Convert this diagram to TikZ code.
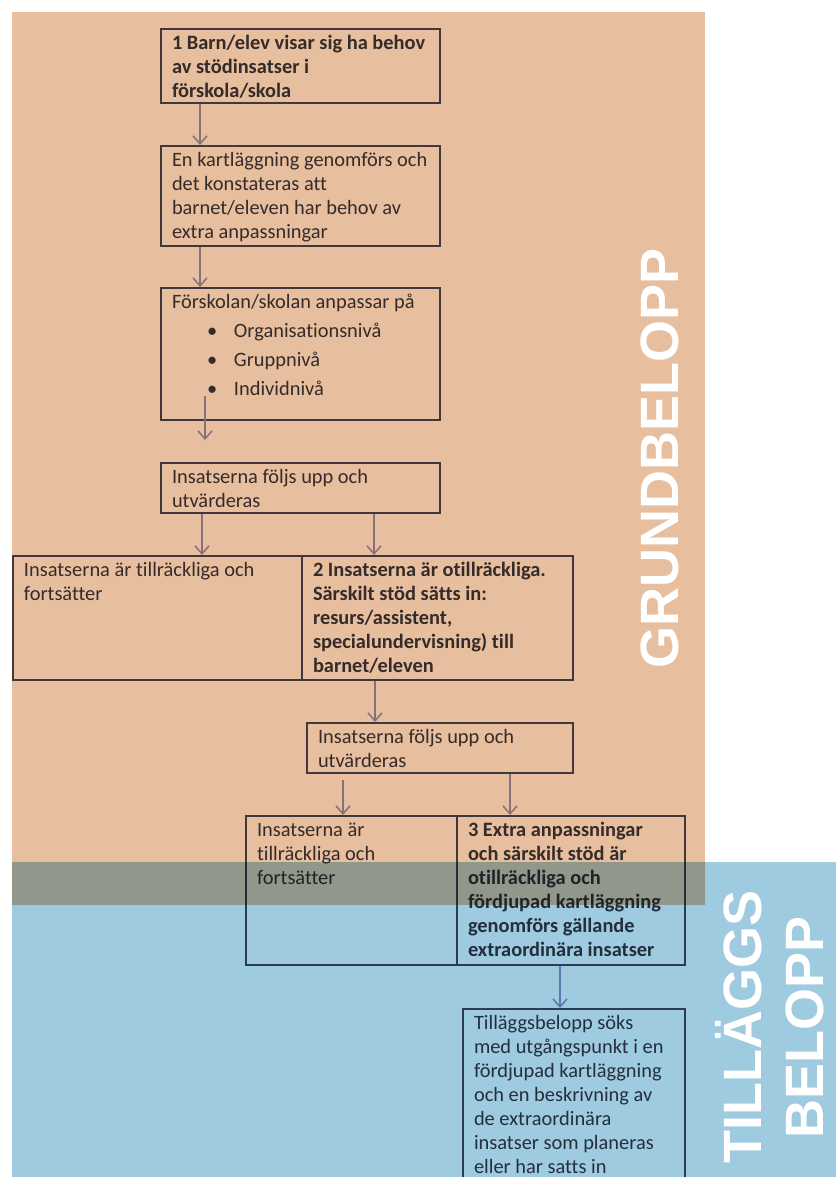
\documentclass[tikz,border=0pt]{standalone}
\usepackage{fontspec}
\setmainfont{Carlito}[Ligatures=NoCommon]
\newfontfamily\headfont{Liberation Sans}
\usetikzlibrary{arrows.meta}

\definecolor{orangebg}{RGB}{231,190,158}
\definecolor{bluebg}{RGB}{159,203,225}
\definecolor{ink}{RGB}{58,58,68}
\definecolor{boxline}{RGB}{72,76,96}
\definecolor{flowc}{RGB}{150,150,200}

\newlength\px
\setlength\px{0.5pt}
% box text: width, height (in px), content
\newcommand{\stagetext}[3]{\parbox[c][\dimexpr#2\px-4pt\relax][t]{\dimexpr#1\px-11pt\relax}{\raggedright\strut#3}}
\newcommand{\bul}{\hspace*{17.5pt}\makebox[13.5pt][l]{\textbullet}}

\begin{document}
\begin{tikzpicture}[x=1\px, y=-1\px,
        stage/.style={draw=boxline, line width=1pt, anchor=north west, inner xsep=5.5pt, inner ysep=2pt, text=ink, font=\fontsize{10.2}{12}\selectfont},
        keystage/.style={stage, font=\fontsize{10.2}{12}\selectfont\bfseries},
        flow/.style={draw=flowc, line width=0.75pt, -{Straight Barb[length=4pt, width=7pt]}},
        zone/.style={text=white, font=\headfont\bfseries\fontsize{27}{31}\selectfont, rotate=90, align=center}]

    \useasboundingbox (0,0) rectangle (836,1177);
    \clip (0,0) rectangle (836,1177);
    \fill[white] (0,0) rectangle (836,1177);

    % Steps
    \node[keystage] (b1) at (160,28) {\stagetext{279}{74}{1 Barn/elev visar sig ha behov\\ av stödinsatser i\\ förskola/skola}};
    \node[stage] (b2) at (160,145) {\stagetext{279}{100}{En kartläggning genomförs och\\ det konstateras att\\ barnet/eleven har behov av\\ extra anpassningar}};
    \node[stage] (b3) at (160,287) {\stagetext{279}{132}{Förskolan/skolan anpassar på\\[2.5pt]
        \bul Organisationsnivå\\[2.5pt] \bul Gruppnivå\\[2.5pt] \bul Individnivå}};
    \node[stage] (b4) at (160,462) {\stagetext{279}{50}{Insatserna följs upp och\\ utvärderas}};
    \node[stage] (b5a) at (12,555) {\stagetext{289}{124}{Insatserna är tillräckliga och\\ fortsätter}};
    \node[keystage] (b5b) at (301,555) {\stagetext{271}{124}{2 Insatserna är otillräckliga.\\ Särskilt stöd sätts in:\\ resurs/assistent,\\ specialundervisning) till\\ barnet/eleven}};
    \node[stage] (b6) at (306,722) {\stagetext{266}{50}{Insatserna följs upp och\\ utvärderas}};
    \node[stage] (b7a) at (245,815) {\stagetext{211}{149}{Insatserna är\\ tillräckliga och\\ fortsätter}};
    \node[keystage] (b7b) at (456,815) {\stagetext{228}{149}{3 Extra anpassningar\\ och särskilt stöd är\\ otillräckliga och\\ fördjupad kartläggning\\ genomförs gällande\\ extraordinära insatser}};
    \node[stage] (b8) at (462,1008) {\stagetext{222}{220}{Tilläggsbelopp söks\\ med utgångspunkt i en\\ fördjupad kartläggning\\ och en beskrivning av\\ de extraordinära\\ insatser som planeras\\ eller har satts in}};

    % Arrows
    \coordinate (a3s) at (205,396);
    \coordinate (a3e) at (205,440);
    \draw[flow] (b1.south -| 200,0) -- (b2.north -| 200,0);
    \draw[flow] (b2.south -| 200,0) -- (b3.north -| 200,0);
    \draw[flow] (a3s) -- (a3e);
    \draw[flow] (b4.south -| 202,0) -- (b5a.north -| 202,0);
    \draw[flow] (b4.south -| 374,0) -- (b5b.north -| 374,0);
    \draw[flow] (b5b.south -| 375,0) -- (b6.north -| 375,0);
    \draw[flow, shorten <=3pt] (b6.south -| 343,0) -- (b7a.north -| 343,0);
    \draw[flow] (b6.south -| 510,0) -- (b7b.north -| 510,0);
    \draw[flow] (b7b.south -| 560,0) -- (b8.north -| 560,0);

    % Funding zones
    \begin{scope}[blend mode=multiply]
        \fill[orangebg] (12,12) rectangle (705,905);
        \fill[bluebg] (12,862) rectangle (836,1177);
    \end{scope}
    \node[zone] (grund) at (660,458) {GRUNDBELOPP};
    \node[zone] (tillagg) at (770,1027) {TILLÄGGS\\ BELOPP};
\end{tikzpicture}
\end{document}
